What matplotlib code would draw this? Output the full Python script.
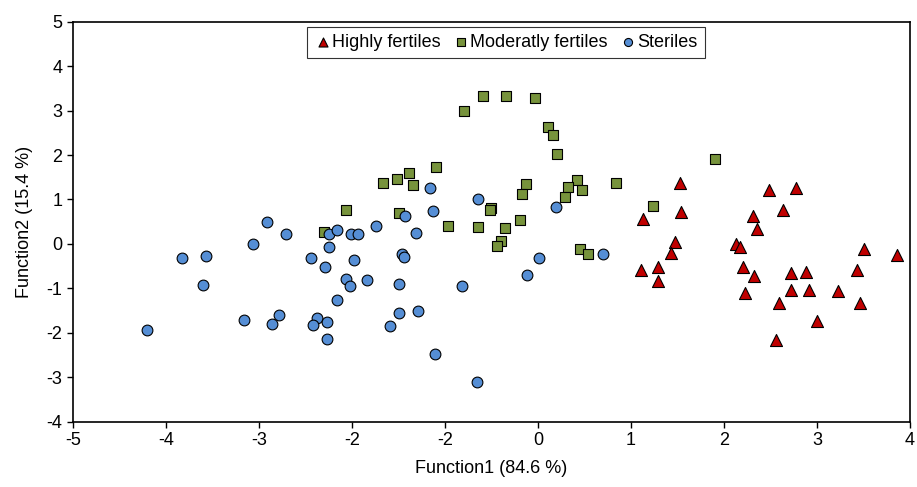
import matplotlib
matplotlib.use('Agg')
import matplotlib.pyplot as plt

plt.rcParams['font.family'] = ['Liberation Sans', 'DejaVu Sans']
plt.rcParams['axes.unicode_minus'] = False

#---------------------------------------data
high_x = [1.525, 1.540, 1.128, 1.476, 1.429, 1.106, 1.289, 1.286, 2.481, 2.779,
          2.636, 2.314, 2.357, 2.131, 2.174, 2.209, 2.320, 2.223, 2.725, 2.883,
          2.725, 2.915, 2.589, 3.230, 3.004, 2.556, 3.500, 3.856, 3.431, 3.459]
high_y = [1.364, 0.718, 0.554, 0.043, -0.198, -0.594, -0.520, -0.828, 1.213, 1.265,
          0.756, 0.621, 0.335, -0.009, -0.070, -0.527, -0.722, -1.105, -0.655, -0.632,
          -1.044, -1.037, -1.330, -1.067, -1.735, -2.156, -0.115, -0.257, -0.594, -1.337]

mod_x = [-2.294, -2.066, -1.661, -1.510, -1.386, -1.496, -0.591, -0.339, -0.028, -0.791,
         0.112, 0.158, 0.208, -1.099, -1.338, -0.125, -0.168, 0.419, 0.322, 0.469,
         0.287, 0.835, -0.501, -0.511, -0.962, -0.644, -0.358, -0.193, -0.401, -0.440,
         0.455, 0.541, 1.909, 1.235]
mod_y = [0.275, 0.770, 1.364, 1.460, 1.589, 0.689, 3.321, 3.335, 3.283, 2.997,
         2.630, 2.444, 2.030, 1.737, 1.325, 1.355, 1.130, 1.431, 1.280, 1.206,
         1.062, 1.370, 0.815, 0.770, 0.410, 0.387, 0.365, 0.545, 0.059, -0.054,
         -0.115, -0.221, 1.904, 0.860]

ster_x = [-2.917, -2.710, -3.064, -3.830, -3.569, -3.602, -4.206, -3.161, -2.778, -2.853,
          -2.374, -2.420, -2.266, -2.262, -2.248, -2.159, -2.012, -1.933, -1.743, -2.241,
          -2.441, -2.284, -1.980, -2.058, -2.015, -1.832, -2.155, -1.493, -1.493, -1.590,
          -1.432, -1.457, -1.439, -1.163, -0.644, -1.124, -1.306, 0.193, 0.008, -0.118,
          0.702, -0.816, -1.285, -1.102, -0.651]
ster_y = [0.493, 0.223, -0.002, -0.317, -0.266, -0.918, -1.931, -1.719, -1.593, -1.796,
          -1.661, -1.818, -1.757, -2.133, 0.230, 0.306, 0.223, 0.223, 0.403, -0.070,
          -0.311, -0.513, -0.362, -0.790, -0.954, -0.806, -1.262, -0.909, -1.555, -1.854,
          0.635, -0.221, -0.302, 1.251, 1.010, 0.740, 0.252, 0.824, -0.324, -0.693,
          -0.227, -0.941, -1.510, -2.484, -3.114]

x_ticks = [-5, -4, -3, -2, -1, 0, 1, 2, 3, 4]
x_tick_labels = ['-5', '-4', '-3', '-2', '-2', '0', '1', '2', '3', '4']
y_ticks = [-4, -3, -2, -1, 0, 1, 2, 3, 4, 5]

#---------------------------------------figure
fig = plt.figure(figsize=(9.17, 4.87), dpi=100)
ax = fig.add_axes([0.0793, 0.1341, 0.9131, 0.8213])

ax.scatter(high_x, high_y, marker='^', s=75, color='#C00000', edgecolor='black',
           linewidth=0.8, label='Highly fertiles', zorder=3)
ax.scatter(mod_x, mod_y, marker='s', s=55, color='#77933C', edgecolor='black',
           linewidth=0.8, label='Moderatly fertiles', zorder=3)
ax.scatter(ster_x, ster_y, marker='o', s=60, color='#558ED5', edgecolor='black',
           linewidth=0.8, label='Steriles', zorder=3)

ax.set_xlim(-5, 4)
ax.set_ylim(-4, 5)
ax.set_xticks(x_ticks)
ax.set_xticklabels(x_tick_labels)
ax.set_yticks(y_ticks)
ax.tick_params(direction='out', length=4, width=1, labelsize=13, colors='black')
for sp in ax.spines.values():
    sp.set_linewidth(1.2)
    sp.set_color('black')

ax.set_xlabel('Function1 (84.6 %)', fontsize=13, labelpad=8)
ax.set_ylabel('Function2 (15.4 %)', fontsize=13, labelpad=10)

#---------------------------------------legend
leg = ax.legend(loc='upper center', bbox_to_anchor=(0.5175, 0.987), ncol=3,
                fontsize=13, frameon=True, fancybox=False, markerscale=0.75,
                handletextpad=0.05, columnspacing=0.7, borderpad=0.4,
                handlelength=0.9, borderaxespad=0)
leg.get_frame().set_edgecolor('black')
leg.get_frame().set_linewidth(0.8)

plt.savefig('out.png', dpi=100)
